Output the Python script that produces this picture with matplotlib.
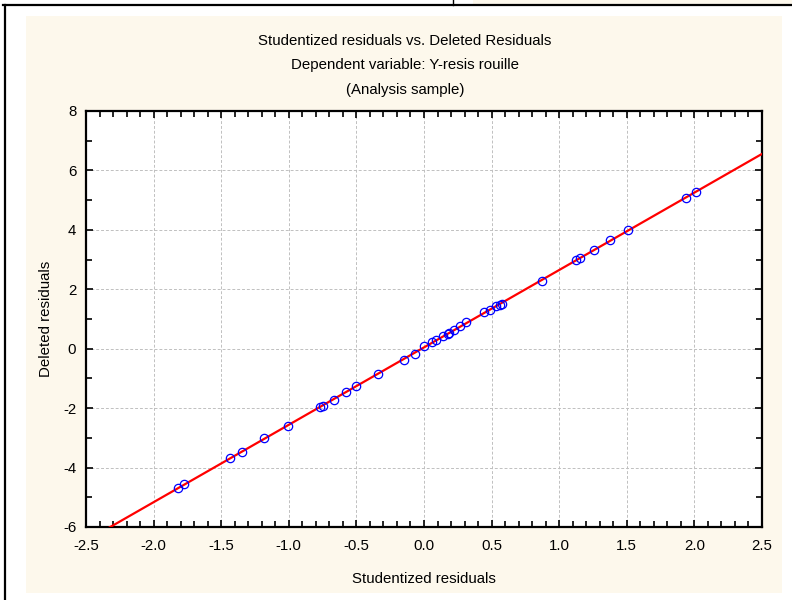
import numpy as np
import matplotlib
matplotlib.use("Agg")
import matplotlib.pyplot as plt
from matplotlib.patches import Rectangle
from matplotlib.lines import Line2D
from matplotlib.ticker import MultipleLocator, FormatStrFormatter

# valeurs
stud = [2.01, 1.935, 1.507, 1.376, 1.255, 1.156, 1.122, 0.873, 0.579, 0.562,
        0.533, 0.488, 0.446, 0.311, 0.266, 0.224, 0.187, 0.175, 0.143, 0.089,
        0.057, 0.0, -0.07, -0.148, -0.34, -0.50, -0.575, -0.662, -0.749, -0.769,
        -1.004, -1.183, -1.344, -1.433, -1.775, -1.822]
deleted = [5.27, 5.07, 3.99, 3.65, 3.32, 3.05, 2.98, 2.29, 1.51, 1.47,
           1.43, 1.30, 1.24, 0.90, 0.78, 0.63, 0.54, 0.51, 0.43, 0.30,
           0.23, 0.08, -0.18, -0.39, -0.85, -1.25, -1.47, -1.73, -1.94, -1.95,
           -2.61, -3.00, -3.47, -3.68, -4.56, -4.68]

titre = ["Studentized residuals vs. Deleted Residuals",
         "Dependent variable: Y-resis rouille",
         "(Analysis sample)"]

plt.rcParams['font.family'] = ['Liberation Sans', 'DejaVu Sans']
plt.rcParams['axes.unicode_minus'] = False

creme = '#FDF8EC'
fs = 10.8
fig = plt.figure(figsize=(7.92, 6), dpi=100)
W, H = 792.0, 600.0

# cadres autour du graphique
fig.patches.append(Rectangle((26 / W, 7 / H), 756 / W, 577 / H, transform=fig.transFigure,
                             facecolor=creme, edgecolor='none', zorder=-10))
fig.patches.append(Rectangle((473 / W, 596 / H), 319 / W, 4 / H, transform=fig.transFigure,
                             facecolor=creme, edgecolor='none', zorder=-10))
fig.lines.append(Line2D([3 / W, 1], [595 / H, 595 / H], transform=fig.transFigure, color='black', lw=1.6))
fig.lines.append(Line2D([5 / W, 5 / W], [0, 595 / H], transform=fig.transFigure, color='black', lw=1.6))
fig.lines.append(Line2D([453 / W, 453 / W], [595 / H, 1], transform=fig.transFigure, color='black', lw=1.0))

ax = fig.add_axes([86 / W, 73 / H, 676 / W, 416 / H])
ax.set_facecolor('white')

# droite de regression
a, b = np.polyfit(stud, deleted, 1)
xl = np.array([-2.5, 2.5])
ax.plot(xl, a * xl + b, color='red', lw=1.6, zorder=3)
ax.plot(stud, deleted, 'o', mfc='none', mec='blue', ms=6, mew=0.9, zorder=4)

ax.set_xlim(-2.5, 2.5)
ax.set_ylim(-6, 8)
ax.xaxis.set_major_locator(MultipleLocator(0.5))
ax.xaxis.set_minor_locator(MultipleLocator(0.1))
ax.yaxis.set_major_locator(MultipleLocator(2))
ax.yaxis.set_minor_locator(MultipleLocator(1))
ax.xaxis.set_major_formatter(FormatStrFormatter('%.1f'))
ax.grid(True, which='major', color='#C0C0C0', ls=(0, (3, 2)), lw=0.7)
ax.tick_params(which='both', direction='in', top=True, right=True, labelsize=fs, width=1.2)
ax.tick_params(axis='x', which='major', length=5, pad=9)
ax.tick_params(axis='y', which='major', length=5, pad=7)
ax.tick_params(which='minor', length=4)
for s in ax.spines.values():
    s.set_linewidth(1.6)

ax.set_xlabel('Studentized residuals', fontsize=fs, labelpad=13)
ax.set_ylabel('Deleted residuals', fontsize=fs, labelpad=7)

for i, t in enumerate(titre):
    fig.text(405 / W, 1 - (41 + 24.5 * i) / H, t, ha='center', va='center', fontsize=fs)

fig.savefig('out.png', dpi=100)
